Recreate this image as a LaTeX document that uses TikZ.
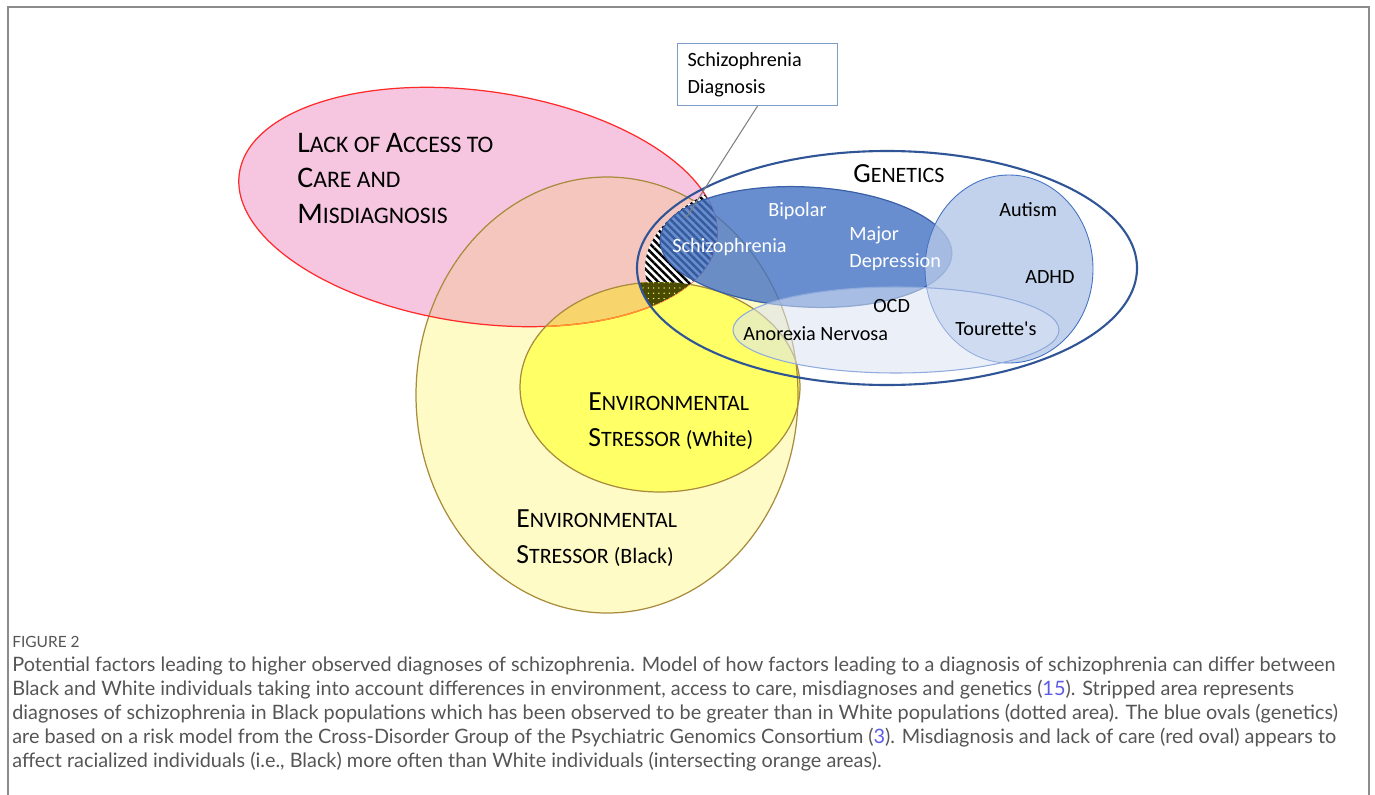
\documentclass[tikz,border=0pt]{standalone}
\usepackage{fontspec}
\setmainfont{Carlito}
\newfontfamily\capfont{Lato}
\usepackage{graphicx}
\usepackage{xcolor}
\usetikzlibrary{patterns.meta}

\definecolor{carepink}{HTML}{F6C6E0}
\definecolor{carered}{HTML}{FF2A2A}
\definecolor{careorange}{HTML}{FF9A2A}
\definecolor{paleyellow}{HTML}{FFFBC6}
\definecolor{salmon}{HTML}{F5C6BE}
\definecolor{stressyellow}{HTML}{FFFF66}
\definecolor{stressgold}{HTML}{F8D46C}
\definecolor{envline}{HTML}{A88B3C}
\definecolor{genenavy}{HTML}{2F5597}
\definecolor{bipolarblue}{HTML}{4472C4}
\definecolor{autismblue}{HTML}{B4C7E7}
\definecolor{ocdblue}{HTML}{DAE3F3}
\definecolor{ocdline}{HTML}{8FAADC}
\definecolor{dotolive}{HTML}{4A4B00}
\definecolor{boxline}{HTML}{7F9CC9}
\definecolor{framegray}{HTML}{8C8C8C}
\definecolor{capgray}{HTML}{555555}
\definecolor{reflink}{HTML}{5B5BE6}

% first letter of a small-caps heading
\newcommand{\initial}[1]{\scalebox{1.26}{#1}}

% the ovals
\newcommand{\careoval}{(478,-207) ellipse [x radius=241, y radius=116]}
\newcommand{\blackoval}{(607,-395) ellipse [x radius=191, y radius=218]}
\newcommand{\whiteoval}{(660,-387) ellipse [x radius=140, y radius=105]}
\newcommand{\geneoval}{(887,-268) ellipse [x radius=250, y radius=117]}

\tikzset{
    caretilt/.style={rotate around={-8:(478,-207)}},
    ovalline/.style={line width=0.7pt},
    factorlabel/.style={anchor=base west, align=left, inner sep=0pt, font=\fontsize{13.5}{20.1}\selectfont},
    stresslabel/.style={anchor=base west, align=left, inner sep=0pt, font=\fontsize{12.5}{20.4}\selectfont},
    disorder/.style={anchor=base west, align=left, inner sep=0pt, font=\fontsize{11.5}{14.8}\selectfont},
    callout/.style={draw=boxline, line width=0.6pt, fill=white, align=left, text width=2.8cm, inner xsep=0.2cm, minimum height=1.24cm, font=\fontsize{11.5}{15.3}\selectfont},
    captext/.style={anchor=base west, align=left, inner sep=0pt, text=capgray, font=\capfont\fontsize{11.3}{13.6}\selectfont}
}

\begin{document}
\begin{tikzpicture}[x=0.02cm, y=0.02cm]
    \useasboundingbox (0,0) rectangle (1375,-794);
    \draw[framegray, line width=1.2pt] (8,-800) -- (8,-7) -- (1369,-7) -- (1369,-800);

    % environment and access to care
    \fill[paleyellow] \blackoval;
    \fill[carepink, caretilt] \careoval;
    \begin{scope}
        \clip[caretilt] \careoval;
        \fill[salmon] \blackoval;
    \end{scope}
    \fill[stressyellow] \whiteoval;
    \begin{scope}
        \clip[caretilt] \careoval;
        \fill[stressgold] \whiteoval;
    \end{scope}
    \draw[envline, ovalline] \blackoval;
    \draw[carered, ovalline, caretilt] \careoval;
    \begin{scope}
        \clip \whiteoval;
        \draw[careorange, ovalline, caretilt] \careoval;
    \end{scope}
    \draw[envline, ovalline] \whiteoval;

    % schizophrenia diagnosis: stripes (Black) and dots (White)
    \begin{scope}
        \clip (889,-268) ellipse [x radius=244, y radius=112];
        \clip[caretilt] \careoval;
        \fill[white] (600,-150) rectangle (760,-330);
        \fill[pattern={Lines[angle=-45, distance=3pt, line width=1.4pt]}, pattern color=black] (600,-150) rectangle (760,-330);
    \end{scope}
    \begin{scope}
        \clip \geneoval;
        \clip[caretilt] \careoval;
        \clip \whiteoval;
        \fill[dotolive] (600,-250) rectangle (760,-340);
        \fill[pattern={Dots[distance=3pt, radius=0.4pt]}, pattern color=yellow!55] (600,-250) rectangle (760,-340);
    \end{scope}

    % genetics
    \filldraw[fill=bipolarblue, fill opacity=0.8, draw=bipolarblue!85!black, ovalline, rotate around={-3:(806,-247)}] (806,-247) ellipse [x radius=146, y radius=60];
    \filldraw[fill=autismblue, fill opacity=0.8, draw=bipolarblue, line width=0.5pt] (1009,-269) ellipse [x radius=84, y radius=94];
    \filldraw[fill=ocdblue, fill opacity=0.55, draw=ocdline, line width=0.6pt] (896,-330) ellipse [x radius=163, y radius=43];
    \draw[genenavy, line width=1.2pt] \geneoval;

    % labels (multi-line nodes sit on their last baseline)
    \node[factorlabel] (care) at (297,-223) {\initial{L}ACK OF \initial{A}CCESS TO\\\initial{C}ARE AND\\\initial{M}ISDIAGNOSIS};
    \node[stresslabel] (genetics) at (853,-182) {\initial{G}ENETICS};
    \node[stresslabel] (white) at (588,-446) {\initial{E}NVIRONMENTAL\\\initial{S}TRESSOR (White)};
    \node[stresslabel] (black) at (516,-563) {\initial{E}NVIRONMENTAL\\\initial{S}TRESSOR (Black)};

    \node[disorder, text=white] (schizo) at (672,-252) {Schizophrenia};
    \node[disorder, text=white] (bipolar) at (768,-216) {Bipolar};
    \node[disorder, text=white] (depression) at (849,-267) {Major\\Depression};
    \node[disorder] (autism) at (999,-216) {Autism};
    \node[disorder] (adhd) at (1025,-283) {ADHD};
    \node[disorder] (ocd) at (873,-312) {OCD};
    \node[disorder] (anorexia) at (743,-340) {Anorexia Nervosa};
    \node[disorder] (tourette) at (955,-335) {Tourette\textquotesingle s};

    % callout
    \node[callout, anchor=north west] (diagbox) at (677,-43) {Schizophrenia\\Diagnosis};
    \coordinate (diagend) at (686,-218);
    \draw[gray, line width=0.6pt] (diagbox.south) -- (diagend);

    % caption
    \node[anchor=base west, inner sep=0pt, text=capgray, font=\capfont\fontsize{8.8}{10}\selectfont] (figno) at (12,-647) {FIGURE 2};
    \node[captext] (caption) at (12,-767) {Potential factors leading to higher observed diagnoses of schizophrenia. Model of how factors leading to a diagnosis of schizophrenia can differ between\\
Black and White individuals taking into account differences in environment, access to care, misdiagnoses and genetics ({\color{reflink}15}). Stripped area represents\\
diagnoses of schizophrenia in Black populations which has been observed to be greater than in White populations (dotted area). The blue ovals (genetics)\\
are based on a risk model from the Cross-Disorder Group of the Psychiatric Genomics Consortium ({\color{reflink}3}). Misdiagnosis and lack of care (red oval) appears to\\
affect racialized individuals (i.e., Black) more often than White individuals (intersecting orange areas).};
\end{tikzpicture}
\end{document}
